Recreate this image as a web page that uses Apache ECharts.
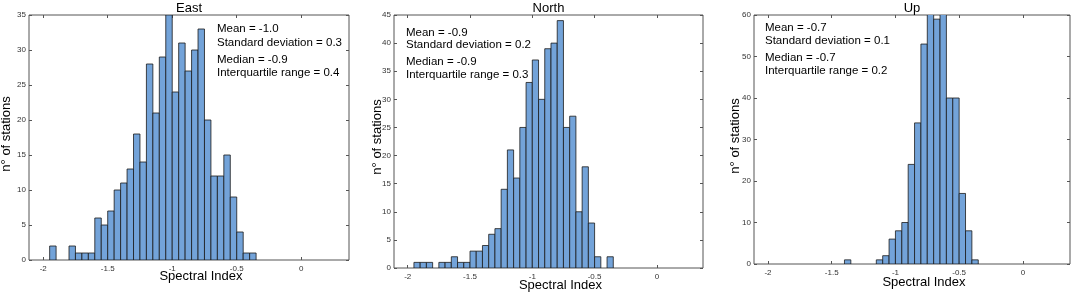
<!DOCTYPE html>
<html>
<head>
<meta charset="utf-8">
<style>
  html, body { margin: 0; padding: 0; background: #fff; }
  #chart { width: 1072px; height: 294px; }
</style>
<script src="https://cdn.jsdelivr.net/npm/echarts@6/dist/echarts.min.js"></script>
</head>
<body>
<div id="chart"></div>
<script>
// histogram bins (left edge), width 0.05
const binStarts = [-1.95, -1.90, -1.85, -1.80, -1.75, -1.70, -1.65, -1.60, -1.55, -1.50, -1.45,
  -1.40, -1.35, -1.30, -1.25, -1.20, -1.15, -1.10, -1.05, -1.00, -0.95, -0.90, -0.85, -0.80,
  -0.75, -0.70, -0.65, -0.60, -0.55, -0.50, -0.45, -0.40]
const binWidth = 0.05

const eastCounts = [2, 0, 0, 2, 1, 1, 1, 6, 5, 7, 10, 11, 13, 18, 14, 28, 21, 29, 35, 24, 31, 27, 30, 33, 20, 12, 12, 15, 9, 4, 1, 1]
const northCounts = [1, 1, 1, 0, 1, 1, 2, 1, 1, 3, 3, 4, 6, 7, 14, 21, 16, 25, 33, 37, 30, 39, 40, 44, 25, 27, 10, 18, 8, 2, 0, 2]
const upCounts = [0, 0, 0, 0, 0, 0, 0, 0, 0, 0, 0, 1, 0, 0, 0, 0, 1, 2, 6, 8, 10, 24, 34, 53, 62, 59, 61, 40, 40, 17, 8, 1]

const xTicks = [-2, -1.5, -1, -0.5, 0]
const titles = ['East', 'North', 'Up']
const yMax = [35, 45, 60]
const yStep = [5, 5, 10]

const statsText = [
  ['Mean = -1.0', 'Standard deviation = 0.3', 'Median = -0.9', 'Interquartile range = 0.4'],
  ['Mean = -0.9', 'Standard deviation = 0.2', 'Median = -0.9', 'Interquartile range = 0.3'],
  ['Mean = -0.7', 'Standard deviation = 0.1', 'Median = -0.7', 'Interquartile range = 0.2'],
]

const FONT = '"Liberation Sans", Arial, Helvetica, sans-serif'
const BAR_FILL = '#73a3d9'
const AXIS_COLOR = '#555'

// panel layout in px
const panels = [
  { left: 29, top: 15, width: 320, height: 245, statX: 217, statY: [29, 43, 60, 73], yLabelX: 6, yLabelY: 134, xLabelY: 276 },
  { left: 394, top: 15, width: 309, height: 253, statX: 406, statY: [33, 45, 62, 75], yLabelX: 377, yLabelY: 137, xLabelY: 285 },
  { left: 754, top: 15, width: 316, height: 249, statX: 765, statY: [28, 41, 58, 71], yLabelX: 735, yLabelY: 136, xLabelY: 282 },
]
const allCounts = [eastCounts, northCounts, upCounts]

const chart = echarts.init(document.getElementById('chart'), null, { renderer: 'canvas' })

const grids = panels.map(p => ({
  left: p.left, top: p.top, width: p.width, height: p.height,
  show: true, borderColor: AXIS_COLOR, borderWidth: 1, backgroundColor: '#fff',
  containLabel: false,
}))

const tickStyle = { show: true, inside: true, length: 3, lineStyle: { color: AXIS_COLOR } }

const xAxes = []
const yAxes = []
panels.forEach((p, i) => {
  xAxes.push({
    type: 'value', gridIndex: i, min: -2.11, max: 0.37, position: 'bottom',
    axisLine: { show: false, onZero: false },
    splitLine: { show: false },
    axisTick: { ...tickStyle, customValues: xTicks },
    axisLabel: { show: true, customValues: xTicks, margin: 5, fontSize: 8, color: '#333', fontFamily: FONT },
  })
  yAxes.push({
    type: 'value', gridIndex: i, min: 0, max: yMax[i], interval: yStep[i], position: 'left',
    axisLine: { show: false, onZero: false },
    splitLine: { show: false },
    axisTick: tickStyle,
    axisLabel: { show: true, margin: 3, fontSize: 8, color: '#333', fontFamily: FONT },
  })
})
// mirrored ticks on top / right
panels.forEach((p, i) => {
  xAxes.push({
    type: 'value', gridIndex: i, min: -2.11, max: 0.37, position: 'top',
    axisLine: { show: false, onZero: false }, splitLine: { show: false }, axisLabel: { show: false },
    axisTick: { ...tickStyle, customValues: xTicks },
  })
  yAxes.push({
    type: 'value', gridIndex: i, min: 0, max: yMax[i], interval: yStep[i], position: 'right',
    axisLine: { show: false, onZero: false }, splitLine: { show: false }, axisLabel: { show: false },
    axisTick: tickStyle,
  })
})

const series = allCounts.map((counts, i) => ({
  type: 'custom',
  name: titles[i],
  xAxisIndex: i,
  yAxisIndex: i,
  clip: true,
  data: binStarts.map((b, k) => [b, counts[k]]),
  renderItem: (params, api) => {
    const x0 = api.value(0)
    const cnt = api.value(1)
    if (!cnt) return
    const p0 = api.coord([x0, cnt])
    const p1 = api.coord([x0 + binWidth, 0])
    return {
      type: 'rect',
      shape: { x: p0[0], y: p0[1], width: p1[0] - p0[0], height: p1[1] - p0[1] },
      style: { fill: BAR_FILL, stroke: '#1a1a1a', lineWidth: 0.8 },
    }
  },
}))

const graphic = []
panels.forEach((p, i) => {
  graphic.push({
    type: 'text', x: p.left + p.width / 2, y: 8,
    style: { text: titles[i], font: `13px ${FONT}`, fill: '#000', textAlign: 'center', textVerticalAlign: 'middle' },
  })
  graphic.push({
    type: 'text', x: p.left + p.width / 2 + 12, y: p.xLabelY,
    style: { text: 'Spectral Index', font: `13px ${FONT}`, fill: '#000', textAlign: 'center', textVerticalAlign: 'middle' },
  })
  graphic.push({
    type: 'text', x: p.yLabelX, y: p.yLabelY, rotation: Math.PI / 2,
    style: { text: 'n° of stations', font: `13px ${FONT}`, fill: '#000', textAlign: 'center', textVerticalAlign: 'middle' },
  })
  statsText[i].forEach((t, k) => {
    graphic.push({
      type: 'text', x: p.statX, y: p.statY[k], z: 10,
      style: { text: t, font: `11.5px ${FONT}`, fill: '#000', textAlign: 'left', textVerticalAlign: 'middle' },
    })
  })
})

chart.setOption({
  animation: false,
  backgroundColor: '#fff',
  grid: grids,
  xAxis: xAxes,
  yAxis: yAxes,
  series,
  graphic,
})

window.addEventListener('resize', () => chart.resize())
</script>
</body>
</html>
